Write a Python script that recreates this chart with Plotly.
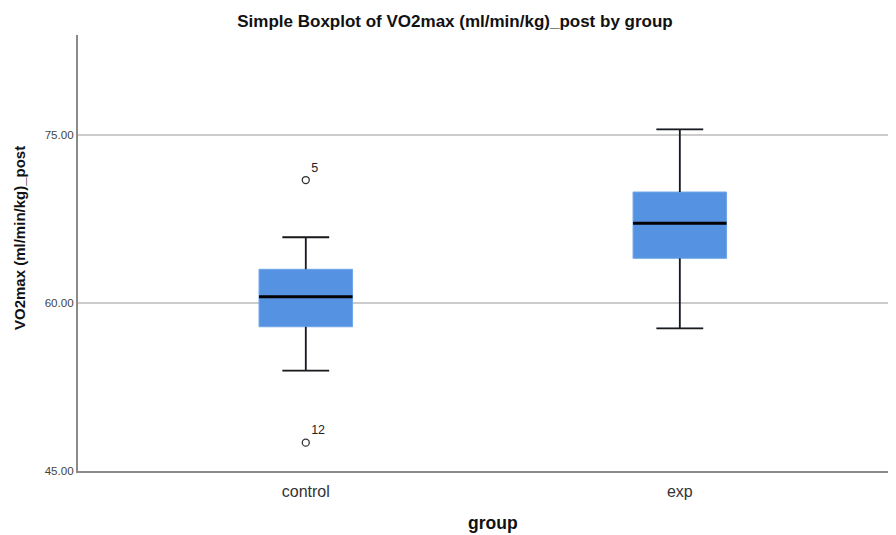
import plotly.graph_objects as go

# ---- data ----
groups = ["control", "exp"]
lower_whisker = [53.96, 57.74]
q1_vals = [57.88, 63.99]
median_vals = [60.56, 67.12]
q3_vals = [63.01, 69.91]
upper_whisker = [65.87, 75.51]

outlier_group = [0, 0]
outlier_vals = [70.98, 47.53]
outlier_ids = ["5", "12"]

y_ticks = [45, 60, 75]
y_tick_text = ["45.00", "60.00", "75.00"]

# ---- styling ----
BOX_W = 0.25
CAP_W = BOX_W / 2
FILL = "#5593e2"
x_pos = list(range(len(groups)))

# page offset (browser body margin) compensation
OFF = 8
W, H = 896 - OFF, 535 - OFF
L, T, R = 78 - OFF, 35 - OFF, 0
B = H - (471 - OFF)
PW, PH = W - L - R, H - T - B

fig = go.Figure()

fig.add_trace(go.Box(
    x=x_pos, q1=q1_vals, median=median_vals, q3=q3_vals,
    lowerfence=lower_whisker, upperfence=upper_whisker,
    width=BOX_W, whiskerwidth=0.5,
    fillcolor=FILL, line=dict(color="#6fa6ea", width=1),
    boxpoints=False, hoverinfo="skip", showlegend=False,
))

for i, x in enumerate(x_pos):
    wx, wy = [], []
    wx += [x, x, None, x - CAP_W / 2, x + CAP_W / 2, None]
    wy += [q1_vals[i], lower_whisker[i], None, lower_whisker[i], lower_whisker[i], None]
    wx += [x, x, None, x - CAP_W / 2, x + CAP_W / 2, None]
    wy += [q3_vals[i], upper_whisker[i], None, upper_whisker[i], upper_whisker[i], None]
    fig.add_trace(go.Scatter(x=wx, y=wy, mode="lines",
                             line=dict(color="#1a1a1a", width=1.8),
                             hoverinfo="skip", showlegend=False))
    fig.add_trace(go.Scatter(x=[x - BOX_W / 2, x + BOX_W / 2],
                             y=[median_vals[i], median_vals[i]], mode="lines",
                             line=dict(color="#000000", width=3),
                             hoverinfo="skip", showlegend=False))

fig.add_trace(go.Scatter(
    x=outlier_group, y=outlier_vals, mode="markers+text",
    marker=dict(symbol="circle-open", size=7, color="#333333", line=dict(width=1.3)),
    text=outlier_ids, textposition="top right",
    textfont=dict(size=12.5, color="#222222", family="Liberation Sans, Arial, sans-serif"),
    hoverinfo="skip", showlegend=False,
))

fig.update_layout(
    width=W, height=H,
    margin=dict(l=L, r=R, t=T, b=B),
    paper_bgcolor="white", plot_bgcolor="white",
    font=dict(family="Liberation Sans, Arial, sans-serif", color="#222222"),
    title=dict(text="<b>Simple Boxplot of VO2max (ml/min/kg)_post by group</b>",
               x=(455 - OFF) / W, xanchor="center", y=1 - (21 - OFF) / H, yanchor="middle",
               font=dict(size=17, color="#111111")),
    xaxis=dict(
        range=[-0.609, 1.578], tickmode="array", tickvals=x_pos, ticktext=groups,
        showgrid=False, zeroline=False, showline=True, linecolor="#8a8a8a", linewidth=2,
        ticks="", ticklabelstandoff=5, tickfont=dict(size=16, color="#333333"),
    ),
    yaxis=dict(
        range=[45, 83.93], tickmode="array", tickvals=y_ticks, ticktext=y_tick_text,
        showgrid=True, gridcolor="#cccccc", gridwidth=1.5, zeroline=False,
        showline=True, linecolor="#8a8a8a", linewidth=2,
        ticks="", tickfont=dict(size=11.6, color="#444444"),
    ),
    annotations=[
        dict(text="<b>VO2max (ml/min/kg)_post</b>", xref="paper", yref="paper",
             x=(19 - 78) / PW, xanchor="center", y=(471 - 238) / PH, yanchor="middle",
             textangle=-90, showarrow=False, font=dict(size=15, color="#111111")),
        dict(text="<b>group</b>", xref="paper", yref="paper",
             x=(493 - 78) / PW, xanchor="center", y=-(523 - 471) / PH, yanchor="middle",
             showarrow=False, font=dict(size=17.5, color="#111111")),
    ],
)

fig.write_html("out.html")
